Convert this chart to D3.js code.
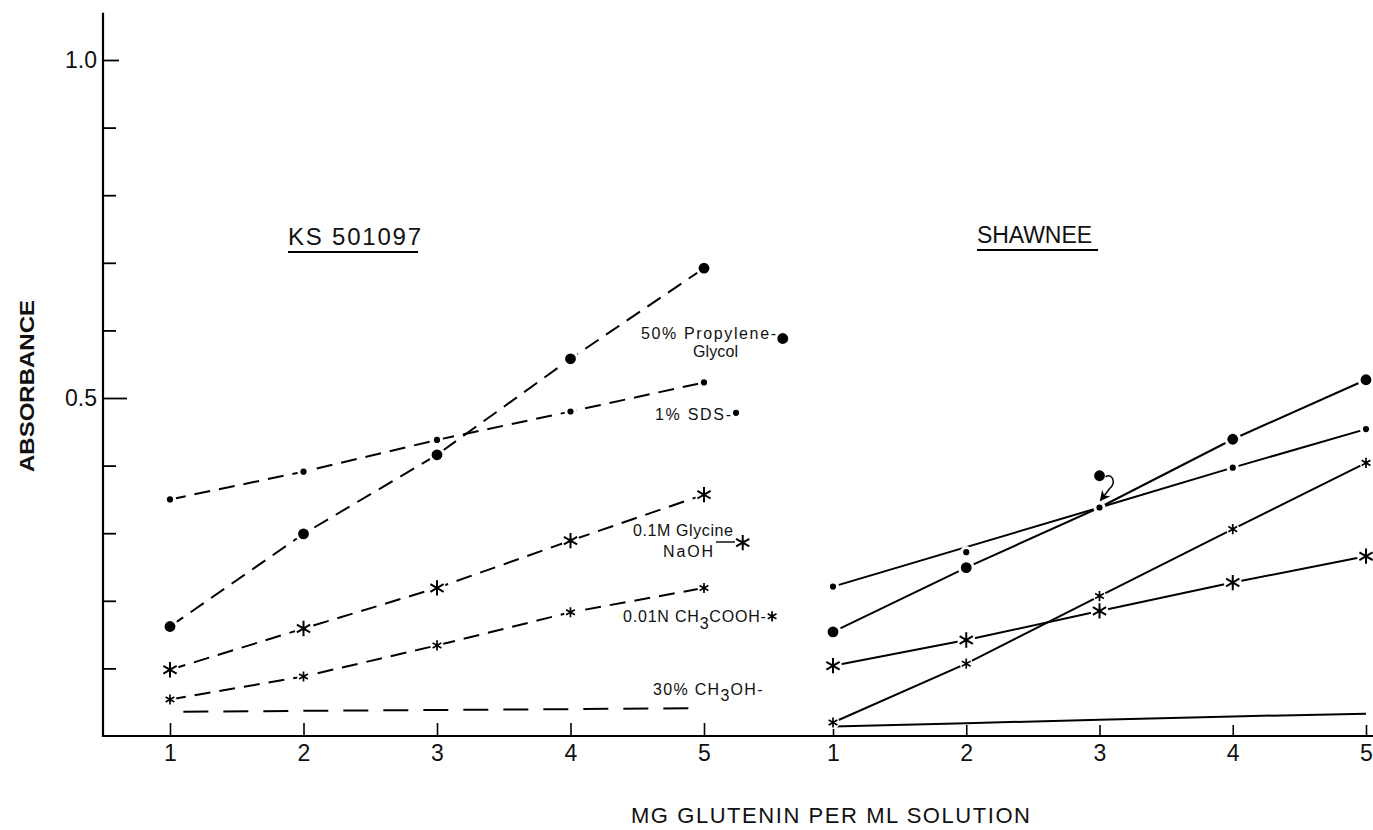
<!DOCTYPE html>
<html>
<head>
<meta charset="utf-8">
<script src="https://cdn.jsdelivr.net/npm/d3@7"></script>
<style>
  body { margin: 0; background: #fff; }
  svg { display: block; }
</style>
</head>
<body>
<svg id="chart" width="1373" height="830"></svg>
<script>
// ---------------- data ----------------
const doses = [1, 2, 3, 4, 5];                       // mg glutenin per ml
const yTicks = [0.1, 0.2, 0.3, 0.4, 0.5, 0.6, 0.7, 0.8, 0.9, 1.0];
const yLabelValues = [0.5, 1.0];
const yLabelTexts = ["0.5", "1.0"];
const xTickLabels = ["1", "2", "3", "4", "5"];

// KS 501097 (dashed lines)
const ksPropylene = [0.162, 0.299, 0.416, 0.558, 0.692];
const ksSDS       = [0.350, 0.391, 0.438, 0.480, 0.523];
const ksGlycine   = [0.098, 0.159, 0.219, 0.289, 0.357];
const ksAcetic    = [0.054, 0.088, 0.134, 0.183, 0.219];
const ksMethanolX = [1.1, 4.95];
const ksMethanol  = [0.036, 0.041];

// SHAWNEE (solid lines)
const shPropylene = [0.154, 0.249, 0.385, 0.439, 0.527];
const shPropyleneCorrected3 = 0.338;   // point 3 moved onto line (arrow)
const shSDS       = [0.221, 0.272, 0.338, 0.397, 0.454];
const shGlycine   = [0.104, 0.142, 0.185, 0.227, 0.266];
const shAcetic    = [0.020, 0.107, 0.207, 0.306, 0.404];
const shMethanol  = [0.014, 0.019, 0.024, 0.029, 0.033];

// legend labels (KS panel)
const legendNames   = ["50% Propylene-", "1% SDS-", "0.1M Glycine", "0.01N CH3COOH-", "30% CH3OH-"];
const legendMarkerX = [5.59, 5.24, 5.29, 5.51];
const legendMarkerY = [0.588, 0.478, 0.286, 0.177];

// ---------------- setup ----------------
const FONT = "'Liberation Sans', Arial, sans-serif";
const svg = d3.select("#chart");
const y  = d3.scaleLinear().domain([0, 1]).range([736, 60]);
const xL = d3.scaleLinear().domain([1, 5]).range([170, 704]);
const xR = d3.scaleLinear().domain([1, 5]).range([833, 1366]);
const axisXpos = 103;

const markerStyle = {
  bigDot:   { type: "circle", r: 5.4 },
  smallDot: { type: "circle", r: 3.1 },
  bigStar:  { type: "star", size: 165, sw: 2, knock: 9 },
  smallStar:{ type: "star", size: 72,  sw: 1.7, knock: 6.5 }
};

function drawMarker(g, cx, cy, kind) {
  const m = markerStyle[kind];
  if (m.type === "circle") {
    g.append("circle").attr("cx", cx).attr("cy", cy).attr("r", m.r).attr("fill", "#000");
  } else {
    g.append("path")
      .attr("d", d3.symbol(d3.symbolAsterisk, m.size)())
      .attr("transform", `translate(${cx},${cy})`)
      .attr("fill", "none").attr("stroke", "#000").attr("stroke-width", m.sw);
  }
}
function knockout(g, cx, cy, kind) {
  const m = markerStyle[kind];
  const r = m.type === "circle" ? m.r + 3 : m.knock;
  g.append("circle").attr("cx", cx).attr("cy", cy).attr("r", r).attr("fill", "#fff");
}

// ---------------- axes ----------------
const gAxes = svg.append("g");
// y axis
const yAxisG = gAxes.append("g").attr("transform", `translate(${axisXpos},0)`)
  .call(d3.axisLeft(y).tickValues(yTicks).tickSizeInner(-13).tickSizeOuter(0).tickPadding(6)
    .tickFormat(d => {
      const i = yLabelValues.findIndex(v => Math.abs(v - d) < 1e-9);
      return i >= 0 ? yLabelTexts[i] : "";
    }));
yAxisG.select(".domain").remove();
yAxisG.selectAll(".tick line").attr("stroke", "#000").attr("stroke-width", 1.8)
  .attr("x2", d => Math.abs(d - 0.5) < 1e-9 ? 24 : (Math.abs(d - 1) < 1e-9 ? 16 : 13));
yAxisG.selectAll(".tick text").attr("font-family", FONT).attr("font-size", 23).attr("fill", "#111");
gAxes.append("line").attr("x1", axisXpos).attr("x2", axisXpos)
  .attr("y1", y(0) + 1).attr("y2", y(1.07)).attr("stroke", "#000").attr("stroke-width", 2.2);

// x axes
[xL, xR].forEach((sc, k) => {
  const g = gAxes.append("g").attr("transform", `translate(0,${y(0)})`)
    .call(d3.axisBottom(sc).tickValues(doses).tickSizeInner(k === 0 ? -13 : -11).tickSizeOuter(0).tickPadding(9)
      .tickFormat((d, i) => xTickLabels[i]));
  g.select(".domain").remove();
  g.selectAll(".tick line").attr("stroke", "#000").attr("stroke-width", 1.6);
  g.selectAll(".tick text").attr("font-family", FONT).attr("font-size", 23).attr("fill", "#111");
});
gAxes.append("line").attr("x1", axisXpos).attr("x2", 1373)
  .attr("y1", y(0)).attr("y2", y(0)).attr("stroke", "#000").attr("stroke-width", 2);

// ---------------- series ----------------
const gLines = svg.append("g");
const gKnock = svg.append("g");
const gMarks = svg.append("g");

const ksSeries = [
  { vals: ksPropylene, kind: "bigDot" },
  { vals: ksSDS,       kind: "smallDot" },
  { vals: ksGlycine,   kind: "bigStar" },
  { vals: ksAcetic,    kind: "smallStar" }
];
const shSeries = [
  { vals: shPropylene, kind: "bigDot",
    line: doses.map((d, i) => ({ x: d, v: i === 2 ? shPropyleneCorrected3 : shPropylene[i] })) },
  { vals: shSDS, kind: "smallDot",
    line: doses.map((d, i) => ({ x: d, v: shSDS[i] })).filter((p, i) => i !== 1) },
  { vals: shGlycine, kind: "bigStar", line: doses.map((d, i) => ({ x: d, v: shGlycine[i] })) },
  { vals: shAcetic,  kind: "smallStar", line: doses.map((d, i) => ({ x: d, v: shAcetic[i] })) }
];

const lineL = d3.line().x(p => xL(p.x)).y(p => y(p.v));
const lineR = d3.line().x(p => xR(p.x)).y(p => y(p.v));

ksSeries.forEach(s => {
  gLines.append("path").attr("d", lineL(doses.map((d, i) => ({ x: d, v: s.vals[i] }))))
    .attr("fill", "none").attr("stroke", "#000").attr("stroke-width", 2).attr("stroke-dasharray", "16,9");
  doses.forEach((d, i) => { knockout(gKnock, xL(d), y(s.vals[i]), s.kind); drawMarker(gMarks, xL(d), y(s.vals[i]), s.kind); });
});
gLines.append("path").attr("d", lineL(ksMethanolX.map((x, i) => ({ x, v: ksMethanol[i] }))))
  .attr("fill", "none").attr("stroke", "#000").attr("stroke-width", 2).attr("stroke-dasharray", "25,15");

shSeries.forEach(s => {
  gLines.append("path").attr("d", lineR(s.line))
    .attr("fill", "none").attr("stroke", "#000").attr("stroke-width", 2);
  doses.forEach((d, i) => { knockout(gKnock, xR(d), y(s.vals[i]), s.kind); drawMarker(gMarks, xR(d), y(s.vals[i]), s.kind); });
});
gLines.append("path").attr("d", lineR(doses.map((d, i) => ({ x: d, v: shMethanol[i] }))))
  .attr("fill", "none").attr("stroke", "#000").attr("stroke-width", 2);

// correction arrow ("?") from displaced point 3 to the line
svg.append("defs").append("marker").attr("id", "ah").attr("viewBox", "0 0 10 10")
  .attr("refX", 9).attr("refY", 5).attr("markerWidth", 7).attr("markerHeight", 7).attr("orient", "auto")
  .append("path").attr("d", "M0,0 L10,5 L0,10 L3,5 z").attr("fill", "#000");
{
  const bx = xR(3), by = y(shPropylene[2]), ty = y(shPropyleneCorrected3);
  const p = d3.path();
  p.moveTo(bx + 6, by + 1);
  p.bezierCurveTo(bx + 13, by - 3, bx + 17, by + 7, bx + 10, by + 13);
  p.lineTo(bx + 1, ty - 7);
  svg.append("path").attr("d", p.toString()).attr("fill", "none").attr("stroke", "#000")
    .attr("stroke-width", 1.5).attr("marker-end", "url(#ah)");
}

// ---------------- labels ----------------
const gText = svg.append("g").attr("font-family", FONT).attr("fill", "#111");
function txt(x, yy, s, size, opts = {}) {
  const t = gText.append("text").attr("x", x).attr("y", yy).attr("font-size", size).text(s);
  if (opts.len) t.attr("textLength", opts.len).attr("lengthAdjust", opts.adj || "spacing");
  if (opts.anchor) t.attr("text-anchor", opts.anchor);
  return t;
}
function chem(x, yy, parts, size, ls) {
  const t = gText.append("text").attr("x", x).attr("y", yy).attr("font-size", size).attr("letter-spacing", ls);
  parts.forEach(p => {
    t.append("tspan").attr("dy", p.dy || 0).text(p.t);
  });
  return t;
}

// panel titles
txt(288, 245, "KS 501097", 24, { len: 133 });
gText.append("line").attr("x1", 288).attr("x2", 418).attr("y1", 252).attr("y2", 252).attr("stroke", "#000").attr("stroke-width", 2);
txt(977, 243, "SHAWNEE", 23, { len: 115 });
gText.append("line").attr("x1", 977).attr("x2", 1098).attr("y1", 250).attr("y2", 250).attr("stroke", "#000").attr("stroke-width", 2);

// axis titles
txt(631, 823, "MG GLUTENIN PER ML SOLUTION", 22, { len: 399 });
gText.append("text").attr("transform", "translate(34,386) rotate(-90)")
  .attr("text-anchor", "middle").attr("font-size", 20).attr("font-weight", "bold")
  .attr("textLength", 172).attr("lengthAdjust", "spacingAndGlyphs").text("ABSORBANCE");

// series legend labels
txt(641, 339, legendNames[0], 16, { len: 135 });
txt(693, 357, "Glycol", 16, { len: 45 });
txt(655, 420, legendNames[1], 16, { len: 76 });
txt(633, 536, legendNames[2], 16, { len: 100 });
txt(663, 557, "NaOH", 16, { len: 50 });
gText.append("line").attr("x1", 716).attr("x2", 735).attr("y1", 542).attr("y2", 542).attr("stroke", "#000").attr("stroke-width", 1.4);
chem(623, 622, [{ t: "0.01N CH" }, { t: "3", dy: 7 }, { t: "COOH-", dy: -7 }], 16, 0.8);
chem(653, 695, [{ t: "30% CH" }, { t: "3", dy: 6 }, { t: "OH-", dy: -6 }], 16, 1.3);

const legendKinds = ["bigDot", "smallDot", "bigStar", "smallStar"];
legendKinds.forEach((k, i) => drawMarker(gMarks, xL(legendMarkerX[i]), y(legendMarkerY[i]), k));
</script>
</body>
</html>
